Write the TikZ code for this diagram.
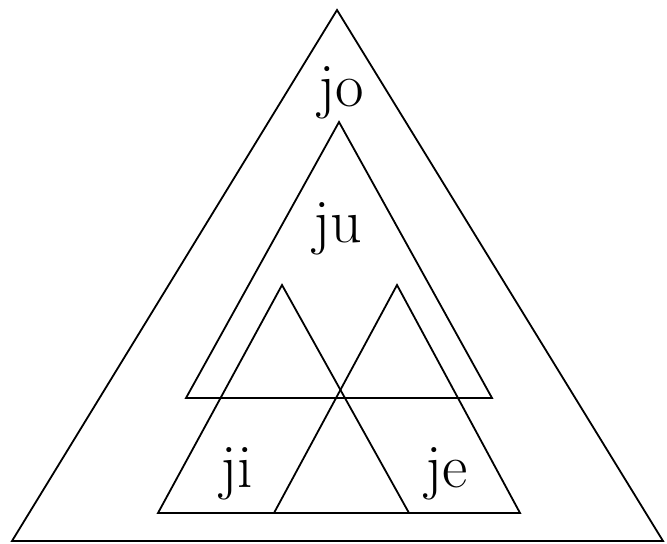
\documentclass[tikz,border=0pt]{standalone}
\usepackage{tikz}
\usetikzlibrary{positioning,calc}

\begin{document}
\begin{tikzpicture}[
    x=0.5pt, y=-0.5pt,
    tri/.style={draw=black, line width=0.9pt, line join=miter},
    lbl/.style={anchor=base, inner sep=0pt, font=\fontsize{31}{36}\selectfont}
]
\useasboundingbox (0,0) rectangle (667,544);

% Outer triangle
\coordinate (oa) at (337,10);
\coordinate (ol) at (12,541);
\coordinate (or) at (663,541);
\draw[tri] (ol) -- (oa) -- (or) -- cycle;

% Middle triangle
\coordinate (ma) at (339,122);
\coordinate (ml) at (186,398);
\coordinate (mr) at (492,398);
\draw[tri] (ml) -- (ma) -- (mr) -- cycle;

% Lower triangles
\coordinate (la) at (282,285);
\coordinate (ll) at (158,513);
\coordinate (lr) at (409,513);
\draw[tri] (ll) -- (la) -- (lr) -- cycle;

\coordinate (ra) at (397,285);
\coordinate (rl) at (274,513);
\coordinate (rr) at (520,513);
\draw[tri] (rl) -- (ra) -- (rr) -- cycle;

% Labels
\node[lbl] (jo) at (341,107) {jo};
\node[lbl] (ju) at (338,243) {ju};
\node[lbl] (ji) at (237,487) {ji};
\node[lbl] (je) at (447,487) {je};

\end{tikzpicture}
\end{document}
